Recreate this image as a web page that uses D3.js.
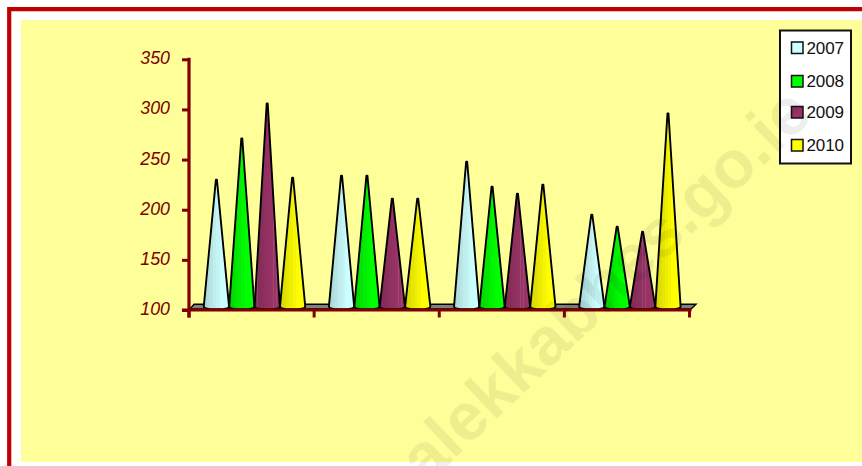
<!DOCTYPE html>
<html><head><meta charset="utf-8">
<script src="https://cdn.jsdelivr.net/npm/d3@7/dist/d3.min.js"></script>
<style>html,body{margin:0;padding:0;background:#fff}svg{display:block}</style>
</head><body><svg id="c" width="862" height="466"></svg>
<script>
const categories = ["A","B","C","D"];
const seriesNames = ["2007","2008","2009","2010"];
const values2007 = [230,234,248,195];
const values2008 = [271,234,223,183];
const values2009 = [306,211,216,178];
const values2010 = [232,211,225,296];
const seriesColors = ["#ccffff","#00ff00","#993366","#ffff00"];
const yTicks = [100,150,200,250,300,350];
const allValues = [values2007,values2008,values2009,values2010];

const svg = d3.select("#c");
const W=862,H=466;
const font="'Liberation Sans', Arial, sans-serif";
svg.append("rect").attr("width",W).attr("height",H).attr("fill","#fff");
svg.append("rect").attr("x",21).attr("y",20).attr("width",W-21).attr("height",442).attr("fill","#ffff99");
svg.append("path").attr("d","M9.2,466V9.2H862").attr("fill","none").attr("stroke","#c00000").attr("stroke-width",4.2);

const y = d3.scaleLinear().domain([100,350]).range([310,59.3]);
const x = d3.scaleBand().domain(categories).range([189,689.5]);
const axisColor="#800000";
const x0=x.range()[0], x1=x.range()[1];

// floor
svg.append("path").attr("d",`M${x0+1},309 L${x0+5},304.3 H${x1+6.5} L${x1+1.5},309 Z`)
  .attr("fill","#808080").attr("stroke","#000").attr("stroke-width",1.4);

// cones
const firstOffset=27.4, coneStep=25.4, halfBase=12.6, bands=8;
const defs=svg.append("defs");
const g=svg.append("g");
categories.forEach((c,ci)=>{
  seriesNames.forEach((s,si)=>{
    const v=allValues[si][ci];
    const cx=x(c)+firstOffset+si*coneStep;
    const top=y(v), base=y(100)-0.8;
    const id=`g${ci}${si}`;
    const col=d3.color(seriesColors[si]);
    const grad=defs.append("linearGradient").attr("id",id);
    d3.range(bands).forEach(k=>{
      const t=k/(bands-1);
      const dark=0.38*(1-Math.min(1,t/0.75));
      const shade=d3.interpolateRgb(col,"#000")(dark*0.42);
      const lit=d3.interpolateRgb(shade,"#fff")(si===2?0.1:0.04);
      grad.append("stop").attr("offset",k/bands).attr("stop-color",shade);
      grad.append("stop").attr("offset",(k+0.9)/bands).attr("stop-color",shade);
      grad.append("stop").attr("offset",(k+0.9)/bands).attr("stop-color",lit);
      grad.append("stop").attr("offset",(k+1)/bands).attr("stop-color",lit);
    });
    g.append("path")
      .attr("d",`M${cx-0.5},${top} H${cx+0.5} L${cx+halfBase},${base-3} Q${cx+halfBase+0.2},${base-0.6} ${cx+halfBase-6},${base} H${cx-halfBase+6} Q${cx-halfBase-0.2},${base-0.6} ${cx-halfBase},${base-3} Z`)
      .attr("fill",`url(#${id})`).attr("stroke","#000").attr("stroke-width",1.9).attr("stroke-linejoin","round");
  });
});

// axes
const ya=svg.append("g").attr("transform","translate(189,0)").call(d3.axisLeft(y).tickValues(yTicks).tickSize(7).tickPadding(12));
ya.select(".domain").attr("stroke",axisColor).attr("stroke-width",3.2).attr("d","M0,57.8V317.5");
ya.selectAll(".tick line").attr("stroke",axisColor).attr("stroke-width",3);
ya.selectAll(".tick text").attr("fill",axisColor).attr("font-family",font).attr("font-size",17.8).attr("font-style","italic").attr("dy","0.25em");

const xa=svg.append("g").attr("transform","translate(0,310)").call(d3.axisBottom(x).tickSize(0).tickFormat(""));
xa.select(".domain").attr("stroke",axisColor).attr("stroke-width",3).attr("d",`M${x0-7},0H${x1+2}`);
const xTickPos=categories.map(c=>x(c)).concat([x1]);
svg.append("g").selectAll("line").data(xTickPos).join("line")
  .attr("x1",d=>d).attr("x2",d=>d).attr("y1",310).attr("y2",317.5).attr("stroke",axisColor).attr("stroke-width",3);

// legend
const lg=svg.append("g");
lg.append("rect").attr("x",780).attr("y",30.5).attr("width",71).attr("height",133).attr("fill","#fff").attr("stroke","#111").attr("stroke-width",2);
const ly=[47.5,81,112,145];
seriesNames.forEach((s,i)=>{
  lg.append("rect").attr("x",791.5).attr("y",ly[i]-5.5).attr("width",11.5).attr("height",11.5).attr("fill",seriesColors[i]).attr("stroke","#111").attr("stroke-width",1.5);
  lg.append("text").attr("x",806.5).attr("y",ly[i]+6.3).text(s).attr("font-family",font).attr("font-size",17).attr("letter-spacing",-0.1).attr("fill","#111");
});

// watermark on top of everything, faint
svg.append("text").text("alekkabhes.go.ie")
  .attr("transform","translate(426,486) rotate(-43.5)")
  .attr("font-family",font).attr("font-weight","bold")
  .attr("font-size",67).attr("fill","#000").attr("fill-opacity",0.065);
</script></body></html>
